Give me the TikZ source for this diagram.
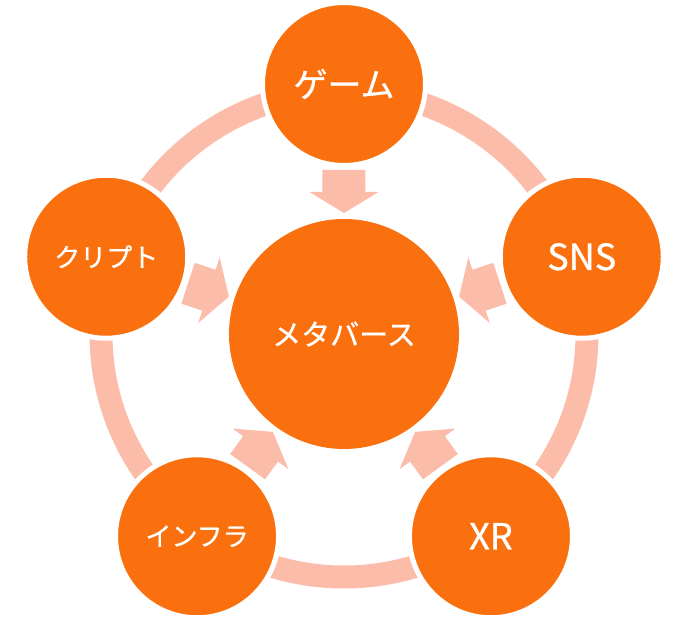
\documentclass[tikz,border=0pt]{standalone}
\usepackage{fontspec}
\setmainfont{Noto Sans CJK JP}[FakeBold=0.8]
\definecolor{orng}{RGB}{250,112,14}
\definecolor{salmon}{RGB}{252,188,170}
\tikzset{
  ringline/.style={draw=salmon, line width=23pt},
  outernode/.style={circle, fill=orng, draw=white, line width=5pt, minimum size=163pt, inner sep=0pt, text=white},
  centernode/.style={circle, fill=orng, minimum size=230pt, inner sep=0pt, text=white},
  blockarrow/.style={fill=salmon, draw=none}
}
\begin{document}
\begin{tikzpicture}[x=1pt,y=1pt]
\useasboundingbox (-344,-292) rectangle (334,334);
\fill[white] (-344,-292) rectangle (334,334);
\draw[ringline] (0,0) circle (243);
\foreach \a in {90,18,-54,-126,162}{
  \begin{scope}[rotate=\a]
    \fill[blockarrow] (164,21.5) -- (142,21.5) -- (142,34.5) -- (121,0) -- (142,-34.5) -- (142,-21.5) -- (164,-21.5) -- cycle;
  \end{scope}
}
\node[centernode] (meta) at (0,0) {\fontsize{29}{29}\selectfont メタバース};
\node[outernode] (game) at (90:250) {\fontsize{34}{34}\selectfont ゲーム};
\node[outernode] (sns) at (18:250) {\fontsize{36}{36}\selectfont SNS};
\node[outernode] (xr) at (-54:250) {\fontsize{36}{36}\selectfont XR};
\node[outernode] (infra) at (-126:250) {\fontsize{26}{26}\selectfont インフラ};
\node[outernode] (crypto) at (162:250) {\fontsize{26}{26}\selectfont クリプト};
\end{tikzpicture}
\end{document}
